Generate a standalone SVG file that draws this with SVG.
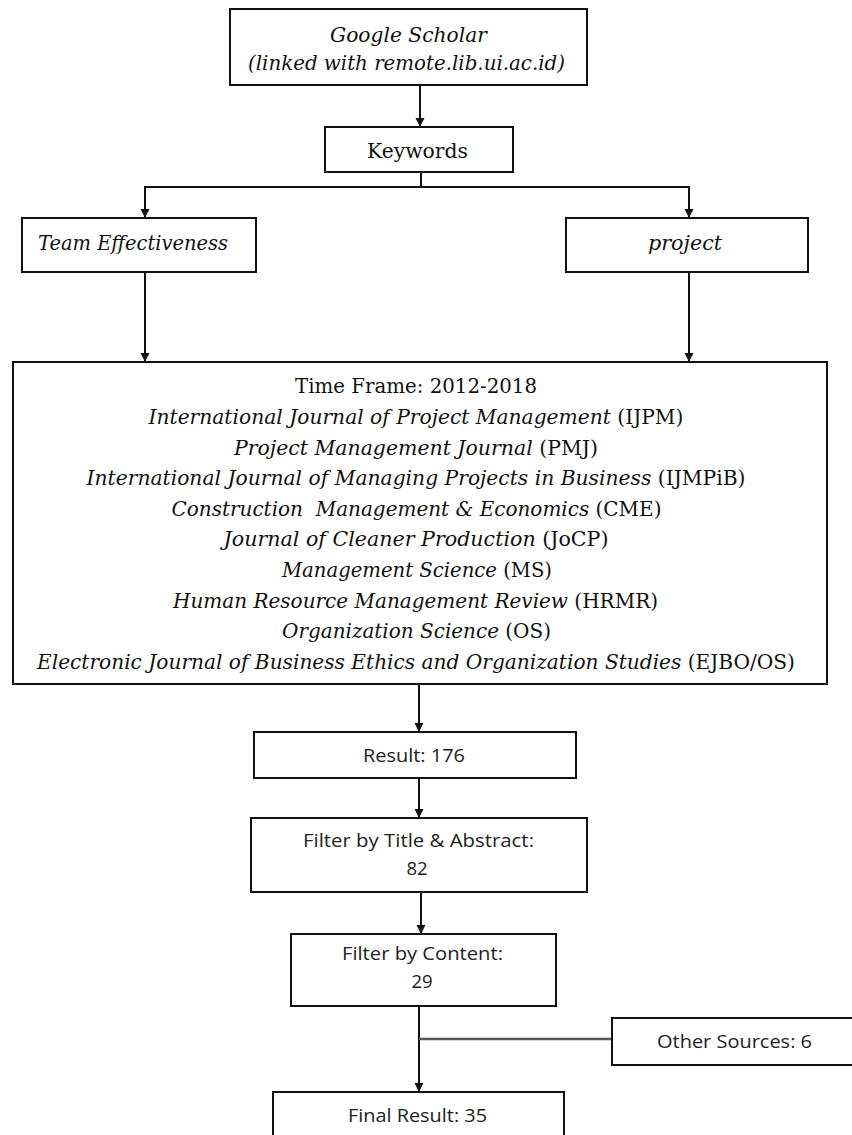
<svg xmlns="http://www.w3.org/2000/svg" width="852" height="1135" viewBox="0 0 852 1135">
<style>
.box{fill:#fff;stroke:#111;stroke-width:2}
.ln{fill:none;stroke:#111;stroke-width:2}
.serif{font-family:"DejaVu Serif","Liberation Serif",serif;font-size:19.5px;fill:#111}
.it{font-style:italic}
.up{font-style:normal}
.sans{font-family:"Open Sans","Noto Sans",sans-serif;font-size:18.5px;fill:#222}
</style>
<defs>
<marker id="ah" viewBox="0 0 10 10" refX="10" refY="5" markerUnits="userSpaceOnUse" markerWidth="9" markerHeight="10" orient="auto">
<path d="M0,0 L10,5 L0,10 z" fill="#111"/>
</marker>
</defs>
<g id="connectors">
<line class="ln" x1="420" y1="86" x2="420" y2="127" marker-end="url(#ah)"/>
<path class="ln" d="M421,172 L421,187"/>
<path class="ln" d="M145,218 L145,187 L689,187 L689,218"/>
<line class="ln" x1="145" y1="187" x2="145" y2="218" marker-end="url(#ah)"/>
<line class="ln" x1="689" y1="187" x2="689" y2="218" marker-end="url(#ah)"/>
<line class="ln" x1="145" y1="272" x2="145" y2="362" marker-end="url(#ah)"/>
<line class="ln" x1="689" y1="272" x2="689" y2="362" marker-end="url(#ah)"/>
<line class="ln" x1="419" y1="684" x2="419" y2="732" marker-end="url(#ah)"/>
<line class="ln" x1="419" y1="778" x2="419" y2="818" marker-end="url(#ah)"/>
<line class="ln" x1="421" y1="892" x2="421" y2="934" marker-end="url(#ah)"/>
<line class="ln" x1="419" y1="1006" x2="419" y2="1092" marker-end="url(#ah)"/>
<line x1="419" y1="1039" x2="612" y2="1039" stroke="#555" stroke-width="2.5"/>
</g>
<g id="google-scholar">
<rect class="box" x="230" y="9" width="357" height="76"/>
<text class="serif it" x="408.5" y="42" text-anchor="middle" textLength="157" lengthAdjust="spacingAndGlyphs">Google Scholar</text>
<text class="serif it" x="406.5" y="70" text-anchor="middle" textLength="317" lengthAdjust="spacingAndGlyphs">(linked with remote.lib.ui.ac.id)</text>
</g>
<g id="keywords">
<rect class="box" x="325" y="127" width="188" height="45"/>
<text class="serif" x="417.5" y="158" text-anchor="middle" textLength="101" lengthAdjust="spacingAndGlyphs">Keywords</text>
</g>
<g id="team-effectiveness">
<rect class="box" x="22" y="218" width="234" height="54"/>
<text class="serif it" x="38" y="250" textLength="190" lengthAdjust="spacingAndGlyphs">Team Effectiveness</text>
</g>
<g id="project">
<rect class="box" x="566" y="218" width="242" height="54"/>
<text class="serif it" x="685" y="250" text-anchor="middle" textLength="74" lengthAdjust="spacingAndGlyphs">project</text>
</g>
<g id="time-frame">
<rect class="box" x="13" y="362" width="814" height="322"/>
<text class="serif" x="416" y="393" text-anchor="middle" textLength="242" lengthAdjust="spacingAndGlyphs">Time Frame: 2012-2018</text>
<text class="serif" x="416" y="424" text-anchor="middle" textLength="535" lengthAdjust="spacingAndGlyphs"><tspan class="it">International Journal of Project Management</tspan> (IJPM)</text>
<text class="serif" x="416" y="454.5" text-anchor="middle" textLength="364" lengthAdjust="spacingAndGlyphs"><tspan class="it">Project Management Journal</tspan> (PMJ)</text>
<text class="serif" x="416" y="485" text-anchor="middle" textLength="659" lengthAdjust="spacingAndGlyphs"><tspan class="it">International Journal of Managing Projects in Business</tspan> (IJMPiB)</text>
<text class="serif" x="416.5" y="515.5" text-anchor="middle" textLength="490" lengthAdjust="spacingAndGlyphs" xml:space="preserve"><tspan class="it">Construction  Management &amp; Economics</tspan> (CME)</text>
<text class="serif" x="416" y="546" text-anchor="middle" textLength="385" lengthAdjust="spacingAndGlyphs"><tspan class="it">Journal of Cleaner Production</tspan> (JoCP)</text>
<text class="serif" x="417" y="577" text-anchor="middle" textLength="270" lengthAdjust="spacingAndGlyphs"><tspan class="it">Management Science</tspan> (MS)</text>
<text class="serif" x="415.5" y="607.5" text-anchor="middle" textLength="485" lengthAdjust="spacingAndGlyphs"><tspan class="it">Human Resource Management Review</tspan> (HRMR)</text>
<text class="serif" x="416.5" y="638" text-anchor="middle" textLength="269" lengthAdjust="spacingAndGlyphs"><tspan class="it">Organization Science</tspan> (OS)</text>
<text class="serif" x="416" y="668.5" text-anchor="middle" textLength="758" lengthAdjust="spacingAndGlyphs"><tspan class="it">Electronic Journal of Business Ethics and Organization Studies</tspan> (EJBO/OS)</text>
</g>
<g id="result">
<rect class="box" x="254" y="732" width="322" height="46"/>
<text class="sans" x="414" y="762" text-anchor="middle" textLength="102" lengthAdjust="spacingAndGlyphs">Result: 176</text>
</g>
<g id="filter-title-abstract">
<rect class="box" x="251" y="818" width="336" height="74"/>
<text class="sans" x="418.5" y="847" text-anchor="middle" textLength="231" lengthAdjust="spacingAndGlyphs">Filter by Title &amp; Abstract:</text>
<text class="sans" x="417" y="875" text-anchor="middle">82</text>
</g>
<g id="filter-content">
<rect class="box" x="291" y="934" width="265" height="72"/>
<text class="sans" x="422.5" y="960" text-anchor="middle" textLength="161" lengthAdjust="spacingAndGlyphs">Filter by Content:</text>
<text class="sans" x="422" y="988" text-anchor="middle">29</text>
</g>
<g id="other-sources">
<rect class="box" x="612" y="1018" width="245" height="47"/>
<text class="sans" x="734.5" y="1048" text-anchor="middle" textLength="155" lengthAdjust="spacingAndGlyphs">Other Sources: 6</text>
</g>
<g id="final-result">
<rect class="box" x="273" y="1092" width="291" height="60"/>
<text class="sans" x="417.5" y="1122" text-anchor="middle" textLength="139" lengthAdjust="spacingAndGlyphs">Final Result: 35</text>
</g>
</svg>
